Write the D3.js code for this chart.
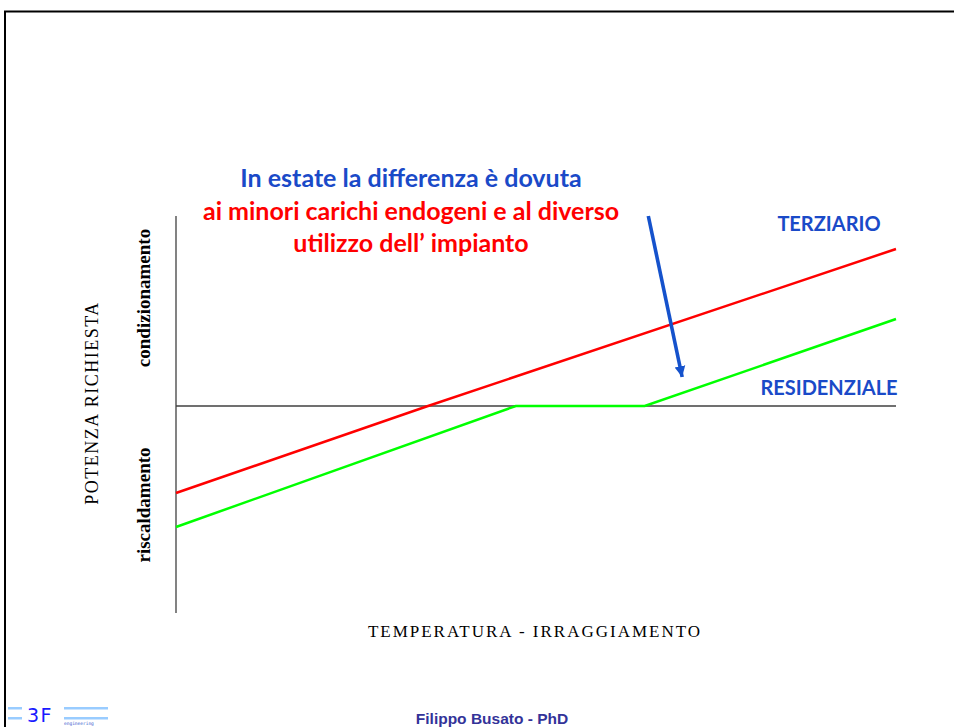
<!DOCTYPE html>
<html lang="it">
<head>
<meta charset="UTF-8">
<script src="https://d3js.org/d3.v7.min.js"></script>
<title>Potenza richiesta - terziario vs residenziale</title>
<style>
  body { margin: 0; background: #fff; }
  svg { display: block; }
</style>
</head>
<body>
<div id="chart"></div>
<script>
  // x: temperatura/irraggiamento (0..100), y: potenza richiesta (neg = riscaldamento, pos = condizionamento)
  var terziarioX = [0, 35, 100];
  var terziarioY = [-21.75, 0, 39.25];
  var residenzialeX = [0, 47.2, 65.1, 100];
  var residenzialeY = [-30.25, 0, 0, 21.75];
  var arrowFrom = [65.6, 47.5];
  var arrowTo = [70.3, 7.25];
  var titleLines = ["In estate la differenza è dovuta", "ai minori carichi endogeni e al diverso", "utilizzo dell\u2019 impianto"];
  var seriesNames = ["TERZIARIO", "RESIDENZIALE"];

  var W = 954, H = 727;
  var svg = d3.select("#chart").append("svg")
    .attr("width", W).attr("height", H);

  // slide frame
  svg.append("path")
    .attr("d", "M5,727 V11.5 H954")
    .attr("fill", "none").attr("stroke", "#000").attr("stroke-width", 2);

  var x = d3.scaleLinear().domain([0, 100]).range([176, 896]);
  var y = d3.scaleLinear().domain([-51.75, 47.5]).range([613, 216]);

  // axes
  svg.append("line")
    .attr("x1", x(0)).attr("x2", x(0)).attr("y1", y(47.5)).attr("y2", y(-51.75))
    .attr("stroke", "#404040").attr("stroke-width", 1.3);
  svg.append("line")
    .attr("x1", x(0)).attr("x2", x(100)).attr("y1", y(0)).attr("y2", y(0))
    .attr("stroke", "#404040").attr("stroke-width", 1.3);

  var line = d3.line().x(d => x(d[0])).y(d => y(d[1]));

  svg.append("path")
    .datum(residenzialeX.map((v, i) => [v, residenzialeY[i]]))
    .attr("d", line).attr("fill", "none")
    .attr("stroke", "#00ff00").attr("stroke-width", 2.5);

  svg.append("path")
    .datum(terziarioX.map((v, i) => [v, terziarioY[i]]))
    .attr("d", line).attr("fill", "none")
    .attr("stroke", "#ff0000").attr("stroke-width", 2.5);

  // arrow
  var blue = "#1552cc";
  svg.append("defs").append("marker")
    .attr("id", "head").attr("viewBox", "0 0 10 10")
    .attr("refX", 10).attr("refY", 5)
    .attr("markerWidth", 3).attr("markerHeight", 3.2)
    .attr("markerUnits", "strokeWidth")
    .attr("orient", "auto")
    .append("path").attr("d", "M0,0 L10,5 L0,10 Z").attr("fill", blue);
  svg.append("line")
    .attr("x1", x(arrowFrom[0])).attr("y1", y(arrowFrom[1]))
    .attr("x2", x(arrowTo[0])).attr("y2", y(arrowTo[1]))
    .attr("stroke", blue).attr("stroke-width", 3.6)
    .attr("marker-end", "url(#head)");

  // annotation
  var note = svg.append("g")
    .attr("font-family", "Lato, 'Open Sans', sans-serif")
    .attr("font-weight", "bold").attr("font-size", 25)
    .attr("text-anchor", "middle");
  note.selectAll("text").data(titleLines).join("text")
    .attr("x", 411)
    .attr("y", (d, i) => 187 + i * 32.5)
    .attr("fill", (d, i) => i === 0 ? "#1a4ac8" : "#ff0000")
    .text(d => d);

  // series labels
  svg.selectAll(".serie").data(seriesNames).join("text")
    .attr("class", "serie")
    .attr("x", 829)
    .attr("y", (d, i) => i === 0 ? 231 : 395)
    .attr("text-anchor", "middle")
    .attr("font-family", "Lato, 'Open Sans', sans-serif")
    .attr("font-weight", "bold").attr("font-size", 20)
    .attr("fill", "#1a4ac8")
    .text(d => d);

  // axis titles
  var serif = "'Liberation Serif', 'DejaVu Serif', serif";
  svg.append("text")
    .attr("transform", "translate(98,403) rotate(-90)")
    .attr("text-anchor", "middle")
    .attr("font-family", serif).attr("font-size", 18)
    .attr("letter-spacing", 1.5)
    .text("POTENZA RICHIESTA");
  svg.append("text")
    .attr("transform", "translate(150,298) rotate(-90)")
    .attr("text-anchor", "middle")
    .attr("font-family", serif).attr("font-weight", "bold").attr("font-size", 19)
    .text("condizionamento");
  svg.append("text")
    .attr("transform", "translate(150,505) rotate(-90)")
    .attr("text-anchor", "middle")
    .attr("font-family", serif).attr("font-weight", "bold").attr("font-size", 19)
    .text("riscaldamento");
  svg.append("text")
    .attr("x", 535).attr("y", 637)
    .attr("text-anchor", "middle")
    .attr("font-family", serif).attr("font-size", 17)
    .attr("letter-spacing", 2)
    .text("TEMPERATURA - IRRAGGIAMENTO");

  // footer
  svg.append("text")
    .attr("x", 492).attr("y", 724)
    .attr("text-anchor", "middle")
    .attr("font-family", "'Liberation Sans', Arial, sans-serif")
    .attr("font-weight", "bold").attr("font-size", 15.5)
    .attr("fill", "#333399")
    .text("Filippo Busato - PhD");

  // logo
  var logo = svg.append("g");
  [[8, 707, 14], [8, 717, 14], [64, 707, 44], [64, 717, 44]].forEach(function (r) {
    logo.append("rect").attr("x", r[0]).attr("y", r[1]).attr("width", r[2]).attr("height", 2.5)
      .attr("fill", "#99ccff");
  });
  logo.append("text")
    .attr("x", 27).attr("y", 722)
    .attr("font-family", "'DejaVu Sans', sans-serif").attr("font-size", 19)
    .attr("fill", "#1a1aff").attr("letter-spacing", 1.5)
    .text("3F");
  logo.append("text")
    .attr("x", 64).attr("y", 725)
    .attr("font-family", "'DejaVu Sans Mono', monospace").attr("font-size", 4.5)
    .attr("fill", "#3355cc")
    .text("engineering");
</script>
</body>
</html>
